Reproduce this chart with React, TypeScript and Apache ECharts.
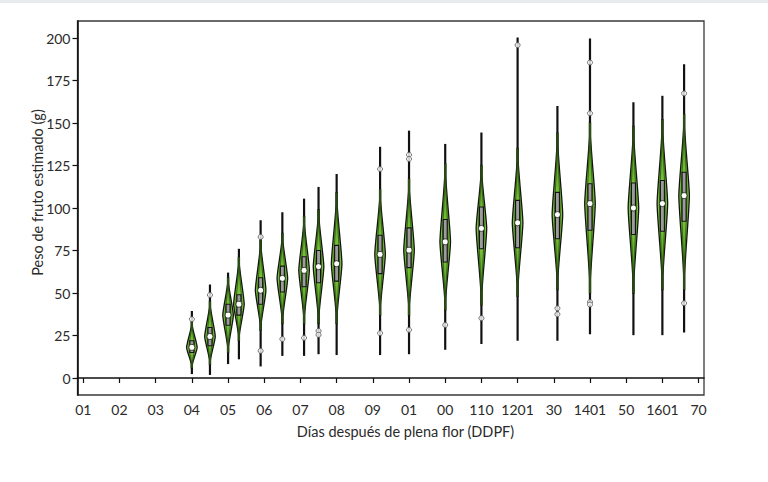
import React, { useEffect, useRef } from "react";
import * as echarts from "echarts";

// Tick labels as printed on the reference x axis (ticks at 10, 20, ..., 180)
const tickValues = [10, 20, 30, 40, 50, 60, 70, 80, 90, 100, 110, 120, 130, 140, 150, 160, 170, 180];
const tickLabels = ["01", "02", "03", "04", "05", "06", "07", "08", "09", "01", "00", "110", "1201", "30", "1401", "50", "1601", "70"];
const yTicks = [0, 25, 50, 75, 100, 125, 150, 175, 200];

// Violin positions (days after full bloom)
const days = [40, 45, 50, 53, 59, 65, 71, 75, 80, 92, 100, 110, 120, 130, 141, 150, 162, 170, 176];
// Whisker extremes
const minVals = [2.3, 1.8, 8.2, 11, 6.8, 13, 13, 14, 13.5, 13.5, 14, 16.6, 20, 21.9, 21.9, 25.8, 25.2, 25.2, 26.8];
const maxVals = [39.4, 55, 62, 76, 92.8, 97.5, 105.5, 112.4, 120, 136, 145.5, 137.7, 144.4, 200.3, 160, 199.7, 162.2, 166, 184.6];
// Box (quartiles) and medians
const q1Vals = [15, 19, 31, 37, 43.4, 50.6, 53.7, 56, 57, 61.4, 64.9, 68.2, 76, 76.6, 81.9, 86.9, 84.4, 86.3, 92.2];
const medians = [18, 24.4, 37, 43.4, 51.6, 58.6, 63.3, 65.5, 67.2, 72.7, 75.2, 80.1, 88, 91.3, 96.1, 102.6, 100, 102.6, 107.3];
const q3Vals = [21.9, 29.7, 43.4, 49, 59, 65.8, 71.3, 75, 78, 84, 88.3, 93.2, 100.6, 104.5, 109.2, 114.3, 114.7, 116.2, 121];
// Extent of the visible density body
const bodyLow = [6, 8, 15, 22, 28, 32, 32, 32, 32, 37, 37, 40, 43, 48, 52, 50, 50, 52, 52];
const bodyHigh = [33, 45, 59, 71, 81, 85, 95, 99, 109, 111, 117, 126, 125, 135, 144, 150, 148, 152, 155];
// Marked individual points: [violin index, value]
const markedPoints: [number, number][] = [
  [0, 34.6], [1, 48.8], [4, 83], [4, 16], [5, 22.9], [6, 23.6], [7, 27.7], [7, 25.4],
  [9, 122.9], [9, 26.4], [10, 131.3], [10, 128.8], [10, 28.3], [11, 31.2], [12, 35.2],
  [13, 195.8], [14, 41], [14, 37.5], [15, 185.6], [15, 155.7], [15, 44.7], [15, 43.2],
  [18, 167.4], [18, 44],
];

const FONT = "Lato, 'Open Sans', 'Noto Sans', sans-serif";
const HALF_W = 5.3;

function renderViolin(params: any, api: any) {
  const i = api.value(2);
  const d = days[i];
  const cx = api.coord([d, medians[i]])[0];
  const py = (v: number) => api.coord([d, v])[1];
  const lo = bodyLow[i];
  const hi = bodyHigh[i];
  const md = medians[i];
  const prof = (v: number, scale: number) => {
    const t = v < md ? (md - v) / (md - lo) : (v - md) / (hi - md);
    const tt = Math.min(1, Math.max(0, t));
    return Math.max(0.5, scale * Math.pow(1 - Math.pow(tt, 1.3), 1.5));
  };
  const N = 60;
  const right: number[][] = [];
  const rightIn: number[][] = [];
  for (let k = 0; k <= N; k++) {
    const v = lo + ((hi - lo) * k) / N;
    right.push([cx + prof(v, HALF_W), py(v)]);
    rightIn.push([cx + prof(v, HALF_W * 0.55), py(v)]);
  }
  const left = right.map((p) => [2 * cx - p[0], p[1]]).reverse();
  const leftIn = rightIn.map((p) => [2 * cx - p[0], p[1]]).reverse();
  const yTop = py(hi);
  const yBot = py(lo);
  const medFrac = (py(md) - yTop) / (yBot - yTop);
  const gradient = new echarts.graphic.LinearGradient(0, 0, 0, 1, [
    { offset: 0, color: "#0b1405" },
    { offset: medFrac * 0.45, color: "#5da626" },
    { offset: medFrac * 0.75, color: "#78c23a" },
    { offset: medFrac + (1 - medFrac) * 0.25, color: "#78c23a" },
    { offset: medFrac + (1 - medFrac) * 0.55, color: "#5da626" },
    { offset: 1, color: "#0b1405" },
  ]);
  return {
    type: "group",
    children: [
      {
        type: "line",
        shape: { x1: cx, y1: py(minVals[i]), x2: cx, y2: py(maxVals[i]) },
        style: { stroke: "#111", lineWidth: 2.2 },
      },
      {
        type: "polygon",
        shape: { points: right.concat(left) },
        style: { fill: gradient, stroke: "#141414", lineWidth: 1.3 },
      },
      {
        type: "polyline",
        shape: { points: rightIn },
        style: { fill: "none", stroke: "#2f5c12", lineWidth: 1.1, opacity: 0.85 },
      },
      {
        type: "polyline",
        shape: { points: leftIn },
        style: { fill: "none", stroke: "#2f5c12", lineWidth: 1.1, opacity: 0.85 },
      },
      {
        type: "rect",
        shape: { x: cx - 2, y: py(q3Vals[i]), width: 4, height: py(q1Vals[i]) - py(q3Vals[i]) },
        style: { fill: "#9c9c9c", stroke: "#111", lineWidth: 1.1 },
      },
      {
        type: "circle",
        shape: { cx: cx, cy: py(md), r: 3 },
        style: { fill: "#ffffff", stroke: "#222", lineWidth: 0.8 },
      },
    ],
  };
}

export default function App() {
  const ref = useRef<HTMLDivElement>(null);
  useEffect(() => {
    if (!ref.current) return;
    const chart = echarts.init(ref.current, undefined, { renderer: "svg" });
    const option: any = {
      animation: false,
      backgroundColor: "#ffffff",
      grid: {
        left: 77.5,
        right: 64,
        top: 21,
        bottom: 87,
        show: true,
        borderColor: "#3a3a3a",
        borderWidth: 1.3,
        backgroundColor: "transparent",
      },
      xAxis: {
        type: "value",
        min: 8.4,
        max: 181.5,
        splitLine: { show: false },
        axisLine: { show: true, lineStyle: { color: "#111", width: 1.6 } },
        axisTick: { show: true, length: 5, customValues: tickValues, lineStyle: { color: "#111", width: 1.2 } },
        axisLabel: {
          customValues: tickValues,
          margin: 7,
          color: "#2a2a2a",
          fontSize: 14,
          fontFamily: FONT,
          formatter: (v: number) => {
            const idx = tickValues.indexOf(Math.round(v));
            return idx >= 0 ? tickLabels[idx] : "";
          },
        },
      },
      yAxis: {
        type: "value",
        min: -10,
        max: 210,
        splitLine: { show: false },
        axisLine: { show: true, lineStyle: { color: "#111", width: 1.6 } },
        axisTick: { show: true, length: 5, customValues: yTicks, lineStyle: { color: "#111", width: 1.2 } },
        axisLabel: {
          customValues: yTicks,
          margin: 7,
          color: "#2a2a2a",
          fontSize: 14,
          fontFamily: FONT,
        },
      },
      graphic: [
        { type: "rect", shape: { x: 0, y: 0, width: 768, height: 3 }, style: { fill: "#e9eaec" }, silent: true },
        {
          type: "text",
          x: 405.5,
          y: 431.5,
          style: {
            text: "Días después de plena flor (DDPF)",
            align: "center",
            verticalAlign: "middle",
            fontSize: 14.5,
            fontFamily: FONT,
            fill: "#2a2a2a",
          },
        },
        {
          type: "text",
          x: 37.7,
          y: 192.5,
          rotation: Math.PI / 2,
          style: {
            text: "Peso de fruto estimado (g)",
            align: "center",
            verticalAlign: "middle",
            fontSize: 14.5,
            fontFamily: FONT,
            fill: "#2a2a2a",
          },
        },
      ],
      series: [
        {
          type: "custom",
          renderItem: renderViolin,
          encode: { x: 0, y: 1 },
          data: days.map((d, i) => [d, medians[i], i]),
          z: 2,
        },
        {
          type: "scatter",
          symbol: "circle",
          symbolSize: 5,
          data: markedPoints.map(([i, v]) => [days[i], v]),
          itemStyle: { color: "#ffffff", borderColor: "#555", borderWidth: 1 },
          z: 3,
        },
      ],
    };
    chart.setOption(option);
    return () => chart.dispose();
  }, []);
  return (
    <div
      ref={ref}
      style={{ position: "fixed", left: 0, top: 0, width: 768, height: 482, background: "#fff" }}
    />
  );
}
